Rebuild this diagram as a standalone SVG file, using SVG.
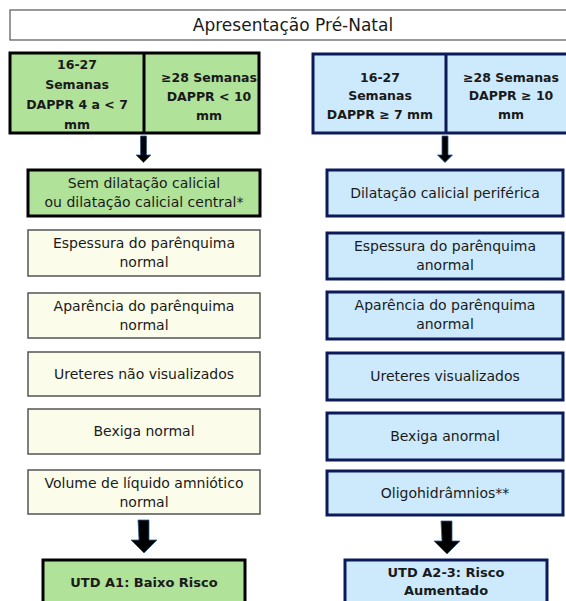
<svg xmlns="http://www.w3.org/2000/svg" width="566" height="601" viewBox="0 0 566 601">
<defs>
<style>
text{font-family:"DejaVu Sans","Liberation Sans",sans-serif;fill:#1a1a1a;text-anchor:middle}
.t{font-size:14px}
.h{font-size:12.5px;font-weight:bold}
.b{font-size:13px;font-weight:bold}
.ttl{font-size:17px}
.g{fill:#b1e29a;stroke:#000;stroke-width:3}
.y{fill:#fbfdea;stroke:#555;stroke-width:1.5}
.bl{fill:#cdeafc;stroke:#0c1a5a;stroke-width:3}
.ar{fill:#000;stroke:#2f5f95;stroke-width:0.8}
</style>
</defs>
<rect width="566" height="601" fill="#fff"/>
<g id="title">
<rect x="10" y="10" width="575" height="30" fill="#fff" stroke="#555" stroke-width="1.2"/>
<text class="ttl" x="293" y="31">Apresentação Pré-Natal</text>
</g>
<g id="green-header">
<rect class="g" x="10" y="53" width="249" height="80"/>
<line x1="144" y1="53" x2="144" y2="133" stroke="#000" stroke-width="3"/>
<text class="h" x="77" y="69">16-27</text>
<text class="h" x="77" y="89">Semanas</text>
<text class="h" x="77" y="109">DAPPR 4 a &lt; 7</text>
<text class="h" x="77" y="129">mm</text>
<text class="h" x="209" y="82">≥28 Semanas</text>
<text class="h" x="209" y="101">DAPPR &lt; 10</text>
<text class="h" x="209" y="120">mm</text>
</g>
<g id="blue-header">
<rect class="bl" x="313" y="54" width="270" height="79"/>
<line x1="446" y1="54" x2="446" y2="133" stroke="#0c1a5a" stroke-width="3"/>
<text class="h" x="380" y="82">16-27</text>
<text class="h" x="380" y="100">Semanas</text>
<text class="h" x="380" y="119">DAPPR ≥ 7 mm</text>
<text class="h" x="511" y="82">≥28 Semanas</text>
<text class="h" x="511" y="100">DAPPR ≥ 10</text>
<text class="h" x="511" y="119">mm</text>
</g>
<g id="l1"><rect class="g" x="28" y="170" width="232" height="46"/>
<text class="t" x="144" y="188">Sem dilatação calicial</text>
<text class="t" x="144" y="207">ou dilatação calicial central*</text></g>
<g id="l2"><rect class="y" x="28" y="230" width="232" height="46"/>
<text class="t" x="144" y="248">Espessura do parênquima</text>
<text class="t" x="144" y="267">normal</text></g>
<g id="l3"><rect class="y" x="28" y="293" width="232" height="45"/>
<text class="t" x="144" y="311">Aparência do parênquima</text>
<text class="t" x="144" y="330">normal</text></g>
<g id="l4"><rect class="y" x="28" y="352" width="232" height="44"/>
<text class="t" x="144" y="379">Ureteres não visualizados</text></g>
<g id="l5"><rect class="y" x="28" y="409" width="232" height="45"/>
<text class="t" x="144" y="436">Bexiga normal</text></g>
<g id="l6"><rect class="y" x="28" y="470" width="232" height="44"/>
<text class="t" x="144" y="488">Volume de líquido amniótico</text>
<text class="t" x="144" y="507">normal</text></g>
<g id="l7"><rect class="g" x="43" y="560" width="202" height="60"/>
<text class="b" x="144" y="587">UTD A1: Baixo Risco</text></g>
<g id="r1"><rect class="bl" x="327" y="170" width="236" height="46"/>
<text class="t" x="445" y="198">Dilatação calicial periférica</text></g>
<g id="r2"><rect class="bl" x="327" y="233" width="236" height="46"/>
<text class="t" x="445" y="251">Espessura do parênquima</text>
<text class="t" x="445" y="270">anormal</text></g>
<g id="r3"><rect class="bl" x="327" y="292" width="236" height="47"/>
<text class="t" x="445" y="310">Aparência do parênquima</text>
<text class="t" x="445" y="329">anormal</text></g>
<g id="r4"><rect class="bl" x="327" y="353" width="236" height="47"/>
<text class="t" x="445" y="381">Ureteres visualizados</text></g>
<g id="r5"><rect class="bl" x="327" y="413" width="236" height="47"/>
<text class="t" x="445" y="441">Bexiga anormal</text></g>
<g id="r6"><rect class="bl" x="327" y="471" width="236" height="44"/>
<text class="t" x="445" y="498">Oligohidrâmnios**</text></g>
<g id="r7"><rect class="bl" x="345" y="560" width="202" height="60"/>
<text class="b" x="446" y="577">UTD A2-3: Risco</text>
<text class="b" x="446" y="595">Aumentado</text></g>
<g id="connectors">
<path class="ar" d="M140.5,136 h6 v19 h4.5 l-7.5,7.5 l-7.5,-7.5 h4.5 z"/>
<path class="ar" d="M442,136 h6 v19 h4.5 l-7.5,7.5 l-7.5,-7.5 h4.5 z"/>
<path class="ar" d="M138,520 h11 v20 h8 l-13,13 l-13,-13 h8 z"/>
<path class="ar" d="M441,521 h11 v20 h8 l-13,13 l-13,-13 h8 z"/>
</g>
</svg>
